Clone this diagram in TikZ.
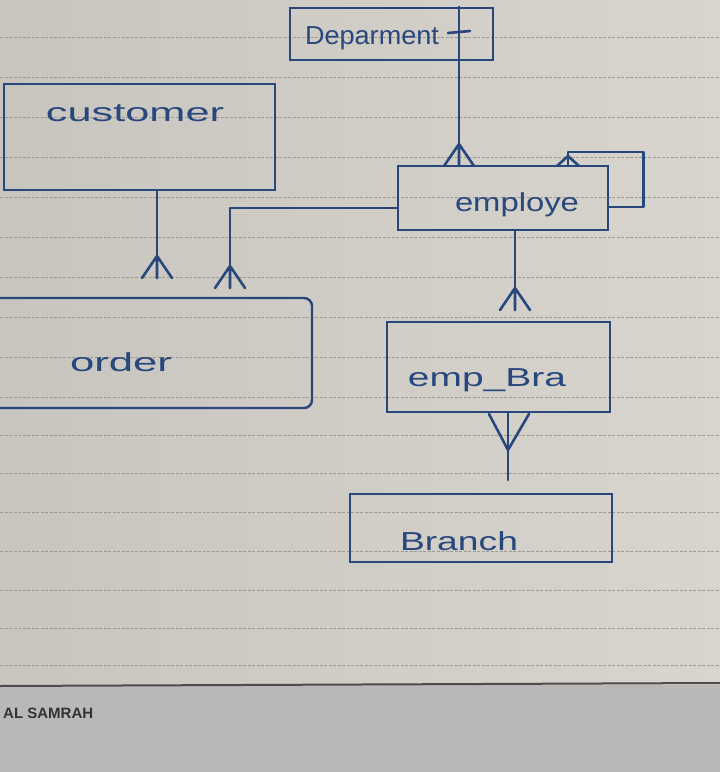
\documentclass[tikz,border=0pt]{standalone}
\usepackage{fontspec}
\setmainfont{Liberation Sans}
\usetikzlibrary{calc}
\definecolor{ink}{RGB}{40,72,125}
\definecolor{paper}{RGB}{200,196,190}
\definecolor{paperlight}{RGB}{216,212,206}
\definecolor{ruleline}{RGB}{158,154,148}
\definecolor{footer}{RGB}{186,184,182}
\newcommand{\handw}[2]{\resizebox{#1}{\height}{#2}}
\tikzset{
  ent/.style={draw=ink, line width=2.4pt, inner sep=0pt},
  conn/.style={draw=ink, line width=2.6pt, line cap=round, line join=round},
  hand/.style={text=ink, font=\fontsize{26}{30}\selectfont, inner sep=0pt},
  crowfoot/.pic={\draw[conn] (0,0) -- (-15,22) (0,0) -- (0,22) (0,0) -- (15,22);},
  ruled/.style={draw=ruleline, line width=0.9pt, dash pattern=on 3pt off 1.5pt}
}
\begin{document}
\begin{tikzpicture}[x=1pt,y=-1pt]
\useasboundingbox (0,0) rectangle (720,772);
\clip (0,0) rectangle (720,772);
% paper
\shade[left color=paper, right color=paperlight] (0,0) rectangle (720,685);
\fill[footer] (0,685) rectangle (720,772);
\foreach \yy in {37,77,117,157,197,237,277,317,357,397,435,473,512,551,590,628,665}
  \draw[ruled] (0,\yy) -- (720,\yy);
\draw[black!70, line width=2pt] (0,686) -- (720,683);
\node[anchor=west, inner sep=0pt, text=black!80,
      font=\bfseries\fontsize{15}{17}\selectfont] (brand) at (3,713) {AL SAMRAH};

% entities
\node[ent, minimum width=271, minimum height=106] (cust) at (139.5,137) {};
\node[ent, minimum width=203, minimum height=52] (dept) at (391.5,34) {};
\node[ent, minimum width=210, minimum height=64] (emp) at (503,198) {};
\node[ent, minimum width=330, minimum height=110, rounded corners=8pt] (order) at (147,353) {};
\node[ent, minimum width=223, minimum height=90] (empbra) at (498.5,367) {};
\node[ent, minimum width=262, minimum height=68] (branch) at (481,528) {};

% labels
\node[hand] (tdept) at (372,38) {\handw{134pt}{Deparment}};
\node[hand] (tcust) at (135,113) {\handw{178pt}{customer}};
\node[hand] (temp) at (517,205) {\handw{124pt}{employe}};
\node[hand] (torder) at (121,362) {\handw{102pt}{order}};
\node[hand] (tempbra) at (487,380) {\handw{158pt}{emp\_Bra}};
\node[hand] (tbranch) at (459,541) {\handw{118pt}{Branch}};

% helper coordinates
\coordinate (xd) at (459,0);
\coordinate (xc) at (157,0);
\coordinate (xl) at (568,0);
\coordinate (xe) at (515,0);
\coordinate (xb) at (508,0);
\coordinate (endcust) at (157,278);
\coordinate (endemp) at (230,288);
\coordinate (endeb) at (515,310);
\coordinate (endbr) at (508,480);

% Department -- employe (one to many)
\draw[conn] (dept.north -| xd) -- (emp.north -| xd);
\draw[conn] (448,33) -- (470,31);
\pic at (459,144) {crowfoot};

% employe self relationship
\draw[conn] ($(emp.east)+(0,9)$) -- ++(34,0) |- (568,152) -- (emp.north -| xl);
\draw[conn] (568,156) -- (557,166) (568,156) -- (579,166);

% customer -- order
\draw[conn] (cust.south -| xc) -- (endcust);
\pic at (157,256) {crowfoot};

% employe -- order
\draw[conn] ($(emp.west)+(0,10)$) -- (230,208) -- (endemp);
\pic at (230,266) {crowfoot};

% employe -- emp_Bra
\draw[conn] (emp.south -| xe) -- (endeb);
\pic at (515,288) {crowfoot};

% emp_Bra -- Branch
\draw[conn] (empbra.south -| xb) -- (endbr);
\draw[conn] (508,450) -- (489,414) (508,450) -- (529,414);
\end{tikzpicture}
\end{document}
